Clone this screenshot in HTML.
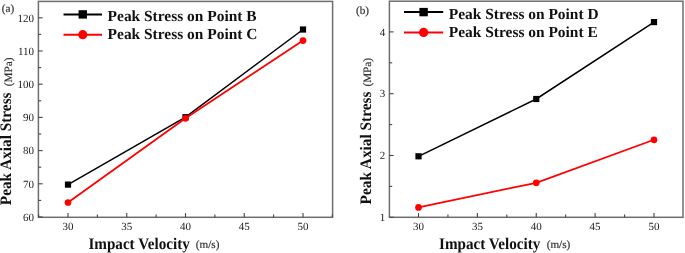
<!DOCTYPE html>
<html><head><meta charset="utf-8"><style>
html,body{margin:0;padding:0;background:#fff;width:685px;height:253px;overflow:hidden}
svg{display:block;filter:blur(0.35px)}
text{font-family:"Liberation Serif",serif;text-rendering:geometricPrecision}
.tk{font-size:11px;fill:#222}
.lg{font-size:15.45px;font-weight:bold;fill:#111}
.ti{font-size:15.3px;font-weight:bold;fill:#111}
.un{font-size:11.2px;fill:#333;stroke:#333;stroke-width:0.2px}
.lt{font-size:11.2px;fill:#333;stroke:#333;stroke-width:0.2px}
</style></head><body>
<svg width="685" height="253" viewBox="0 0 685 253">
<rect width="685" height="253" fill="#fff"/>
<rect x="38.4" y="1.4" width="294.20000000000005" height="215.9" fill="none" stroke="#6e6e6e" stroke-width="1.5"/>
<line x1="68.00" y1="217.3" x2="68.00" y2="213.10000000000002" stroke="#444" stroke-width="1.1"/>
<text x="68.00" y="229.9" text-anchor="middle" class="tk">30</text>
<line x1="126.75" y1="217.3" x2="126.75" y2="213.10000000000002" stroke="#444" stroke-width="1.1"/>
<text x="126.75" y="229.9" text-anchor="middle" class="tk">35</text>
<line x1="185.50" y1="217.3" x2="185.50" y2="213.10000000000002" stroke="#444" stroke-width="1.1"/>
<text x="185.50" y="229.9" text-anchor="middle" class="tk">40</text>
<line x1="244.25" y1="217.3" x2="244.25" y2="213.10000000000002" stroke="#444" stroke-width="1.1"/>
<text x="244.25" y="229.9" text-anchor="middle" class="tk">45</text>
<line x1="303.00" y1="217.3" x2="303.00" y2="213.10000000000002" stroke="#444" stroke-width="1.1"/>
<text x="303.00" y="229.9" text-anchor="middle" class="tk">50</text>
<line x1="38.62" y1="217.3" x2="38.62" y2="214.5" stroke="#444" stroke-width="1.1"/>
<line x1="97.38" y1="217.3" x2="97.38" y2="214.5" stroke="#444" stroke-width="1.1"/>
<line x1="156.12" y1="217.3" x2="156.12" y2="214.5" stroke="#444" stroke-width="1.1"/>
<line x1="214.88" y1="217.3" x2="214.88" y2="214.5" stroke="#444" stroke-width="1.1"/>
<line x1="273.62" y1="217.3" x2="273.62" y2="214.5" stroke="#444" stroke-width="1.1"/>
<line x1="332.38" y1="217.3" x2="332.38" y2="214.5" stroke="#444" stroke-width="1.1"/>
<line x1="38.4" y1="217.00" x2="42.6" y2="217.00" stroke="#444" stroke-width="1.1"/>
<text x="34" y="220.70" text-anchor="end" class="tk">60</text>
<line x1="38.4" y1="183.80" x2="42.6" y2="183.80" stroke="#444" stroke-width="1.1"/>
<text x="34" y="187.50" text-anchor="end" class="tk">70</text>
<line x1="38.4" y1="150.60" x2="42.6" y2="150.60" stroke="#444" stroke-width="1.1"/>
<text x="34" y="154.30" text-anchor="end" class="tk">80</text>
<line x1="38.4" y1="117.40" x2="42.6" y2="117.40" stroke="#444" stroke-width="1.1"/>
<text x="34" y="121.10" text-anchor="end" class="tk">90</text>
<line x1="38.4" y1="84.20" x2="42.6" y2="84.20" stroke="#444" stroke-width="1.1"/>
<text x="34" y="87.90" text-anchor="end" class="tk">100</text>
<line x1="38.4" y1="51.00" x2="42.6" y2="51.00" stroke="#444" stroke-width="1.1"/>
<text x="34" y="54.70" text-anchor="end" class="tk">110</text>
<line x1="38.4" y1="17.80" x2="42.6" y2="17.80" stroke="#444" stroke-width="1.1"/>
<text x="34" y="21.50" text-anchor="end" class="tk">120</text>
<line x1="38.4" y1="200.40" x2="41.199999999999996" y2="200.40" stroke="#444" stroke-width="1.1"/>
<line x1="38.4" y1="167.20" x2="41.199999999999996" y2="167.20" stroke="#444" stroke-width="1.1"/>
<line x1="38.4" y1="134.00" x2="41.199999999999996" y2="134.00" stroke="#444" stroke-width="1.1"/>
<line x1="38.4" y1="100.80" x2="41.199999999999996" y2="100.80" stroke="#444" stroke-width="1.1"/>
<line x1="38.4" y1="67.60" x2="41.199999999999996" y2="67.60" stroke="#444" stroke-width="1.1"/>
<line x1="38.4" y1="34.40" x2="41.199999999999996" y2="34.40" stroke="#444" stroke-width="1.1"/>
<polyline points="68.00,184.60 185.50,117.20 303.00,29.50" fill="none" stroke="#000" stroke-width="1.5"/>
<rect x="64.90" y="181.50" width="6.2" height="6.2" fill="#000"/>
<rect x="182.40" y="114.10" width="6.2" height="6.2" fill="#000"/>
<rect x="299.90" y="26.40" width="6.2" height="6.2" fill="#000"/>
<polyline points="68.00,202.50 185.50,118.30 303.00,40.60" fill="none" stroke="#f00" stroke-width="1.75"/>
<circle cx="68.00" cy="202.50" r="3.35" fill="#f00"/>
<circle cx="185.50" cy="118.30" r="3.35" fill="#f00"/>
<circle cx="303.00" cy="40.60" r="3.35" fill="#f00"/>
<line x1="63.5" y1="14.4" x2="102" y2="14.4" stroke="#000" stroke-width="2"/>
<rect x="78.55" y="10.2" width="8.4" height="8.4" fill="#000"/>
<line x1="63.5" y1="34.7" x2="102" y2="34.7" stroke="#f00" stroke-width="2"/>
<circle cx="82.75" cy="34.7" r="4.6" fill="#f00"/>
<text x="107.6" y="21" class="lg">Peak Stress on Point B</text>
<text x="107.6" y="39.3" class="lg">Peak Stress on Point C</text>
<text x="1.8" y="12.4" class="lt">(a)</text>
<text transform="translate(11.4,205.2) rotate(-90) scale(1,1.05)" class="ti">Peak Axial Stress</text>
<text transform="translate(11.7,86.2) rotate(-90)" class="un">(MPa)</text>
<text transform="translate(88.4,249) scale(1,1.07)" class="ti" style="font-size:15.15px">Impact Velocity</text>
<text x="195.8" y="247.8" class="un">(m/s)</text>
<rect x="389.4" y="1.2" width="293.6" height="216.10000000000002" fill="none" stroke="#6e6e6e" stroke-width="1.5"/>
<line x1="418.50" y1="217.3" x2="418.50" y2="213.10000000000002" stroke="#444" stroke-width="1.1"/>
<text x="418.50" y="229.9" text-anchor="middle" class="tk">30</text>
<line x1="477.38" y1="217.3" x2="477.38" y2="213.10000000000002" stroke="#444" stroke-width="1.1"/>
<text x="477.38" y="229.9" text-anchor="middle" class="tk">35</text>
<line x1="536.25" y1="217.3" x2="536.25" y2="213.10000000000002" stroke="#444" stroke-width="1.1"/>
<text x="536.25" y="229.9" text-anchor="middle" class="tk">40</text>
<line x1="595.12" y1="217.3" x2="595.12" y2="213.10000000000002" stroke="#444" stroke-width="1.1"/>
<text x="595.12" y="229.9" text-anchor="middle" class="tk">45</text>
<line x1="654.00" y1="217.3" x2="654.00" y2="213.10000000000002" stroke="#444" stroke-width="1.1"/>
<text x="654.00" y="229.9" text-anchor="middle" class="tk">50</text>
<line x1="447.94" y1="217.3" x2="447.94" y2="214.5" stroke="#444" stroke-width="1.1"/>
<line x1="506.81" y1="217.3" x2="506.81" y2="214.5" stroke="#444" stroke-width="1.1"/>
<line x1="565.69" y1="217.3" x2="565.69" y2="214.5" stroke="#444" stroke-width="1.1"/>
<line x1="624.56" y1="217.3" x2="624.56" y2="214.5" stroke="#444" stroke-width="1.1"/>
<line x1="389.4" y1="217.30" x2="393.59999999999997" y2="217.30" stroke="#444" stroke-width="1.1"/>
<text x="385.2" y="221.00" text-anchor="end" class="tk">1</text>
<line x1="389.4" y1="155.50" x2="393.59999999999997" y2="155.50" stroke="#444" stroke-width="1.1"/>
<text x="385.2" y="159.20" text-anchor="end" class="tk">2</text>
<line x1="389.4" y1="93.70" x2="393.59999999999997" y2="93.70" stroke="#444" stroke-width="1.1"/>
<text x="385.2" y="97.40" text-anchor="end" class="tk">3</text>
<line x1="389.4" y1="31.90" x2="393.59999999999997" y2="31.90" stroke="#444" stroke-width="1.1"/>
<text x="385.2" y="35.60" text-anchor="end" class="tk">4</text>
<line x1="389.4" y1="186.40" x2="392.2" y2="186.40" stroke="#444" stroke-width="1.1"/>
<line x1="389.4" y1="124.60" x2="392.2" y2="124.60" stroke="#444" stroke-width="1.1"/>
<line x1="389.4" y1="62.80" x2="392.2" y2="62.80" stroke="#444" stroke-width="1.1"/>
<polyline points="418.50,156.30 536.25,99.00 654.00,22.10" fill="none" stroke="#000" stroke-width="1.5"/>
<rect x="415.40" y="153.20" width="6.2" height="6.2" fill="#000"/>
<rect x="533.15" y="95.90" width="6.2" height="6.2" fill="#000"/>
<rect x="650.90" y="19.00" width="6.2" height="6.2" fill="#000"/>
<polyline points="418.50,207.40 536.25,182.80 654.00,139.80" fill="none" stroke="#f00" stroke-width="1.75"/>
<circle cx="418.50" cy="207.40" r="3.35" fill="#f00"/>
<circle cx="536.25" cy="182.80" r="3.35" fill="#f00"/>
<circle cx="654.00" cy="139.80" r="3.35" fill="#f00"/>
<line x1="404" y1="12.1" x2="443.2" y2="12.1" stroke="#000" stroke-width="2"/>
<rect x="419.40000000000003" y="7.8999999999999995" width="8.4" height="8.4" fill="#000"/>
<line x1="404" y1="32.4" x2="443.2" y2="32.4" stroke="#f00" stroke-width="2"/>
<circle cx="423.6" cy="32.4" r="4.6" fill="#f00"/>
<text x="448.8" y="18.7" class="lg">Peak Stress on Point D</text>
<text x="448.8" y="36.9" class="lg">Peak Stress on Point E</text>
<text x="356" y="14.1" class="lt">(b)</text>
<text transform="translate(371.3,204.4) rotate(-90) scale(1,1.05)" class="ti">Peak Axial Stress</text>
<text transform="translate(370.9,86.6) rotate(-90)" class="un">(MPa)</text>
<text transform="translate(439,249) scale(1,1.07)" class="ti" style="font-size:15.15px">Impact Velocity</text>
<text x="546.7" y="247.8" class="un">(m/s)</text>
</svg>
</body></html>
